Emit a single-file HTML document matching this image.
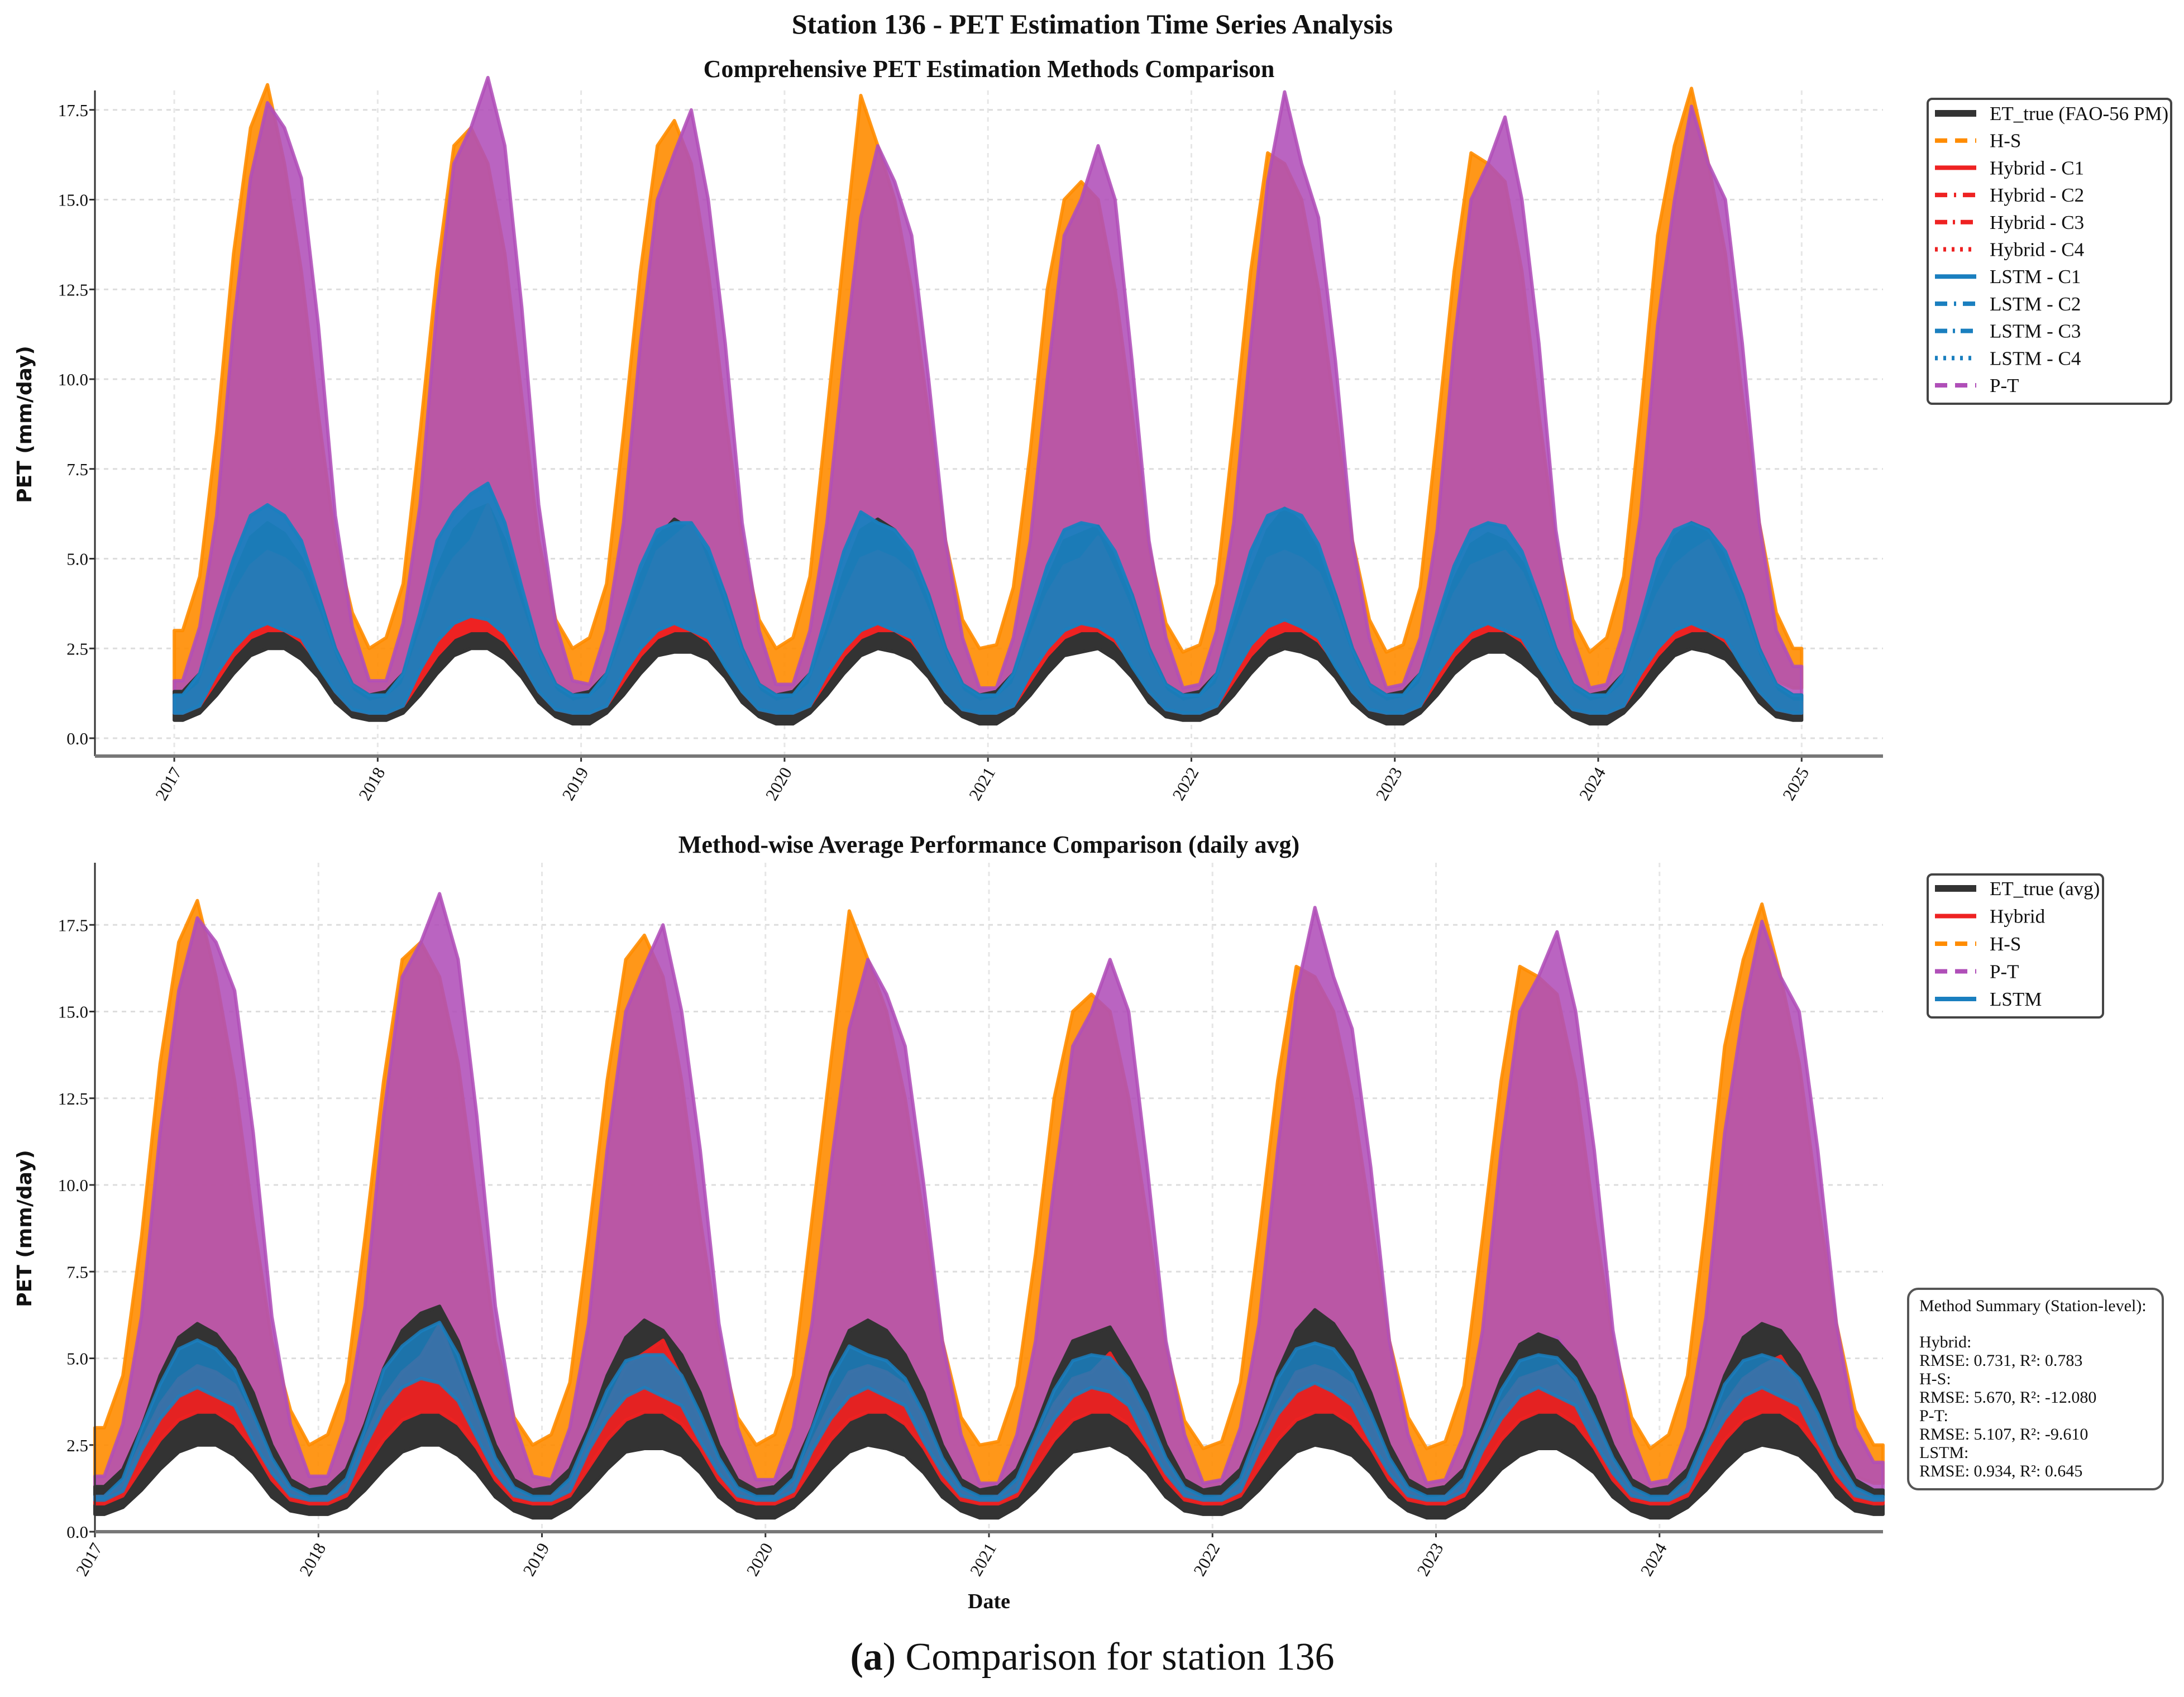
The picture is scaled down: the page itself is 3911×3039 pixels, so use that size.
<!DOCTYPE html>
<html><head><meta charset="utf-8"><style>
html,body{margin:0;padding:0;background:#fff}
svg{display:block}
text{font-family:"Liberation Serif",serif;fill:#111}
</style></head><body>
<svg id="fig" width="3911" height="3039" viewBox="0 0 3911 3039" xmlns="http://www.w3.org/2000/svg">
<text x="1956" y="60" text-anchor="middle" font-size="50" font-weight="bold">Station 136 - PET Estimation Time Series Analysis</text>
<text x="1771" y="138" text-anchor="middle" font-size="44" font-weight="bold">Comprehensive PET Estimation Methods Comparison</text>
<text x="1771" y="1527" text-anchor="middle" font-size="44" font-weight="bold">Method-wise Average Performance Comparison (daily avg)</text>
<g id="top"></g>
<g id="bot"></g>
<text transform="translate(56,760) rotate(-90)" text-anchor="middle" font-size="36" font-weight="bold" style="font-family:'DejaVu Sans',sans-serif">PET (mm/day)</text>
<text transform="translate(56,2200) rotate(-90)" text-anchor="middle" font-size="36" font-weight="bold" style="font-family:'DejaVu Sans',sans-serif">PET (mm/day)</text>
<text x="1771" y="2880" text-anchor="middle" font-size="38" font-weight="bold">Date</text>
<text x="1956" y="2990" text-anchor="middle" font-size="70"><tspan font-weight="bold">(a</tspan>) Comparison for station 136</text>

<g>
<rect x="3452" y="177" width="436" height="546" rx="8" fill="#fff" stroke="#444" stroke-width="4"/>
</g>
<g id="tleg"></g>
<g>
<rect x="3452" y="1566" width="314" height="256" rx="8" fill="#fff" stroke="#444" stroke-width="4"/>
</g>
<g id="bleg"></g>
<g>
<rect x="3417" y="2308" width="456" height="359" rx="18" fill="#fff" stroke="#555" stroke-width="4"/>
<g font-size="30">
<text x="3437" y="2348">Method Summary (Station-level):</text>
<text x="3437" y="2413">Hybrid:</text>
<text x="3437" y="2446">RMSE: 0.731, R²: 0.783</text>
<text x="3437" y="2479">H-S:</text>
<text x="3437" y="2512">RMSE: 5.670, R²: -12.080</text>
<text x="3437" y="2545">P-T:</text>
<text x="3437" y="2578">RMSE: 5.107, R²: -9.610</text>
<text x="3437" y="2611">LSTM:</text>
<text x="3437" y="2644">RMSE: 0.934, R²: 0.645</text>
</g></g>
</svg>
<script>
// monthly envelope data (Jan 2017 .. Dec 2024), mm/day
const years=[2017,2018,2019,2020,2021,2022,2023,2024];
const yTicks=[0,2.5,5,7.5,10,12.5,15,17.5];
const yTickLabels=["0.0","2.5","5.0","7.5","10.0","12.5","15.0","17.5"];
const ptHigh=[1.6,3.1,6.2,11.5,15.6,17.7,17.0,15.6,11.5,6.2,3.1,1.6, 1.6,3.2,6.5,12,16,17,18.4,16.5,12,6.5,3.2,1.6, 1.5,3,6,11,15,16.3,17.5,15,11,6,3,1.5, 1.5,3,6,10.5,14.5,16.5,15.5,14,10,5.5,2.8,1.4, 1.4,2.8,5.5,10,14,15,16.5,15,10.5,5.5,2.8,1.4, 1.5,3,6,11,15.5,18,16,14.5,10.5,5.5,2.8,1.4, 1.5,2.8,5.8,11,15,16,17.3,15,11,5.8,2.8,1.4, 1.5,3,6.2,11.5,15,17.6,16,15,11,6,3,2.0];
const ptLow=[0.9,1.3,2.3,3.8,5,5.8,5.5,4.8,3.5,2.2,1.3,0.9, 0.9,1.3,2.4,4,5.3,5.8,6,5,3.6,2.2,1.3,0.9, 0.8,1.2,2.3,3.8,5,5.6,5.6,4.6,3.4,2.1,1.2,0.8, 0.8,1.2,2.3,3.8,4.8,5.6,5.3,4.6,3.3,2,1.2,0.8, 0.8,1.2,2.2,3.6,4.8,5.4,5.6,4.8,3.4,2,1.2,0.8, 0.8,1.2,2.3,3.8,5,5.8,5.3,4.6,3.4,2,1.2,0.8, 0.8,1.2,2.3,3.8,5,5.4,5.6,4.8,3.5,2.1,1.2,0.8, 0.8,1.3,2.4,4,5,5.8,5.4,4.8,3.5,2.1,1.3,1.0];
const hsHigh=[3,4.5,8.5,13.5,17,18.2,16,13,9,5.5,3.5,2.5, 2.8,4.3,8.5,13,16.5,17,16,13.5,9.5,5.5,3.3,2.5, 2.8,4.3,8.5,13,16.5,17.2,16,13,9,5.5,3.3,2.5, 2.8,4.5,9,13.5,17.9,16.5,15,12.5,9,5.5,3.3,2.5, 2.6,4.2,8,12.5,15,15.5,15,12.5,9,5.3,3.2,2.4, 2.6,4.3,8.5,13,16.3,16,15,12.5,9,5.5,3.3,2.4, 2.6,4.2,8.5,13,16.3,16,15.5,13,9,5.5,3.3,2.4, 2.8,4.5,9,14,16.5,18.1,16,13.5,9.5,6,3.5,2.5];
const hsLow=[1.3,1.7,2.8,4,5,5.4,5.2,4.4,3.4,2.3,1.6,1.3, 1.3,1.7,2.8,4,5,5.3,5.3,4.4,3.4,2.3,1.6,1.3, 1.2,1.7,2.8,4,5,5.3,5.3,4.4,3.4,2.3,1.6,1.2, 1.2,1.7,2.8,4,5,5.3,5,4.4,3.4,2.3,1.6,1.2, 1.2,1.7,2.7,3.8,4.8,5,5,4.4,3.4,2.3,1.5,1.2, 1.2,1.7,2.8,4,5,5.3,5,4.4,3.4,2.3,1.5,1.2, 1.2,1.7,2.8,4,5,5.3,5,4.4,3.4,2.3,1.5,1.2, 1.3,1.8,2.9,4.1,5,5.4,5.2,4.4,3.4,2.3,1.6,1.4];
const etHigh=[1.3,1.8,3,4.5,5.6,6.0,5.7,5.0,4,2.5,1.5,1.2, 1.3,1.8,3.1,4.7,5.8,6.3,6.5,5.5,4,2.5,1.5,1.2, 1.3,1.8,3,4.5,5.6,6.1,5.8,5.1,4,2.5,1.5,1.2, 1.3,1.8,3,4.6,5.8,6.1,5.8,5.1,4,2.5,1.5,1.2, 1.3,1.8,3,4.4,5.5,5.7,5.9,5.0,4,2.5,1.5,1.2, 1.3,1.8,3.1,4.6,5.8,6.4,6.0,5.2,4,2.5,1.5,1.2, 1.3,1.8,3,4.4,5.4,5.7,5.5,4.9,3.9,2.5,1.5,1.2, 1.3,1.8,3,4.5,5.6,6.0,5.8,5.1,4,2.5,1.5,1.2];
const etLow=[0.5,0.7,1.2,1.8,2.3,2.5,2.5,2.2,1.7,1.0,0.6,0.5, 0.5,0.7,1.2,1.8,2.3,2.5,2.5,2.2,1.7,1.0,0.6,0.4, 0.4,0.7,1.2,1.8,2.3,2.4,2.4,2.2,1.7,1.0,0.6,0.4, 0.4,0.7,1.2,1.8,2.3,2.5,2.4,2.2,1.7,1.0,0.6,0.4, 0.4,0.7,1.2,1.8,2.3,2.4,2.5,2.2,1.7,1.0,0.6,0.5, 0.5,0.7,1.2,1.8,2.3,2.5,2.4,2.2,1.7,1.0,0.6,0.4, 0.4,0.7,1.2,1.8,2.2,2.4,2.4,2.1,1.7,1.0,0.6,0.4, 0.4,0.7,1.2,1.8,2.3,2.5,2.4,2.2,1.7,1.0,0.6,0.5];
const lstmHigh=[1.2,1.8,3.5,5,6.2,6.5,6.2,5.5,4,2.5,1.5,1.2, 1.2,1.8,3.5,5.5,6.3,6.8,7.1,6,4.2,2.5,1.5,1.2, 1.2,1.8,3.3,4.8,5.8,6.0,6.0,5.3,4,2.5,1.5,1.2, 1.2,1.8,3.5,5.2,6.3,6.0,5.8,5.2,4,2.5,1.5,1.2, 1.2,1.8,3.3,4.8,5.8,6.0,5.9,5.2,4,2.5,1.5,1.2, 1.2,1.8,3.5,5.2,6.2,6.4,6.2,5.4,4,2.5,1.5,1.2, 1.2,1.8,3.3,4.8,5.8,6.0,5.9,5.2,3.9,2.5,1.5,1.2, 1.2,1.8,3.3,5,5.8,6.0,5.8,5.2,4,2.5,1.5,1.2];
const lstmLow=[0.7,0.9,1.8,2.5,3,3.2,3,2.8,2,1.3,0.8,0.7, 0.7,0.9,1.9,2.7,3.2,3.4,3.3,2.9,2.1,1.3,0.8,0.7, 0.7,0.9,1.8,2.5,3,3.2,3,2.8,2,1.3,0.8,0.7, 0.7,0.9,1.8,2.5,3,3.2,3,2.8,2,1.3,0.8,0.7, 0.7,0.9,1.8,2.5,3,3.2,3.1,2.8,2,1.3,0.8,0.7, 0.7,0.9,1.8,2.6,3.1,3.3,3.1,2.8,2,1.3,0.8,0.7, 0.7,0.9,1.8,2.5,3,3.2,3,2.8,2,1.3,0.8,0.7, 0.7,0.9,1.8,2.5,3,3.2,3,2.8,2,1.3,0.8,0.7];
const hybHigh=[1.1,1.5,2.8,4,4.8,5.2,5.0,4.6,3.5,2.2,1.3,1.0, 1.1,1.5,2.9,4.2,5,5.5,6.5,5,3.6,2.2,1.3,1.0, 1.1,1.5,2.8,4,5.2,5.6,6.0,4.8,3.5,2.2,1.3,1.0, 1.1,1.5,2.8,4,5,5.2,5.0,4.6,3.5,2.2,1.3,1.0, 1.1,1.5,2.8,4,4.8,5.0,5.6,4.6,3.5,2.2,1.3,1.0, 1.1,1.5,2.8,4,5,5.2,5.0,4.6,3.5,2.2,1.3,1.0, 1.1,1.5,2.8,4,4.8,5.0,5.2,4.6,3.5,2.2,1.3,1.0, 1.1,1.5,2.8,4,4.8,5.2,5.5,4.6,3.5,2.2,1.3,1.0];
const hybLow=[0.7,0.9,1.6,2.3,2.8,3.0,3.0,2.7,2.1,1.3,0.8,0.7, 0.7,0.9,1.6,2.3,2.8,3.0,3.0,2.7,2.1,1.3,0.8,0.7, 0.7,0.9,1.6,2.3,2.8,3.0,3.0,2.7,2.1,1.3,0.8,0.7, 0.7,0.9,1.6,2.3,2.8,3.0,3.0,2.7,2.1,1.3,0.8,0.7, 0.7,0.9,1.6,2.3,2.8,3.0,3.0,2.7,2.1,1.3,0.8,0.7, 0.7,0.9,1.6,2.3,2.8,3.0,3.0,2.7,2.1,1.3,0.8,0.7, 0.7,0.9,1.6,2.3,2.8,3.0,3.0,2.7,2.1,1.3,0.8,0.7, 0.7,0.9,1.6,2.3,2.8,3.0,3.0,2.7,2.1,1.3,0.8,0.7];

const NS='http://www.w3.org/2000/svg';
function mk(p,tag,a){const e=document.createElementNS(NS,tag);for(const k in a)e.setAttribute(k,a[k]);p.appendChild(e);return e;}

function panel(g,cfg){
  const xs=t=>cfg.x0+(t-cfg.t0)/(cfg.t1-cfg.t0)*(cfg.x1-cfg.x0);
  const ys=v=>cfg.yZero-v*cfg.yPer;
  yTicks.forEach((v,i)=>{
    const l=mk(g,'line',{x1:cfg.x0,x2:cfg.x1,y1:ys(v),y2:ys(v),stroke:'#ddd','stroke-width':3,'stroke-dasharray':'8 8'});
    
    
    const t=mk(g,'text',{x:cfg.x0-12,y:ys(v)+11,'text-anchor':'end','font-size':31});
    t.textContent=yTickLabels[i];
    
    
    mk(g,'line',{x1:cfg.x0-10,x2:cfg.x0,y1:ys(v),y2:ys(v),stroke:'#333','stroke-width':3});
  });
  cfg.xTickYears.forEach(y=>{
    const x=xs(y);
    const l=mk(g,'line',{x1:x,x2:x,y1:cfg.yTop,y2:cfg.yBot,stroke:'#e6e6e6','stroke-width':3,'stroke-dasharray':'8 8'});
    
    
    mk(g,'line',{x1:x,x2:x,y1:cfg.yBot,y2:cfg.yBot+10,stroke:'#333','stroke-width':3});
    const t=mk(g,'text',{transform:`translate(${x+14},${cfg.yBot+28}) rotate(-60)`,'text-anchor':'end','font-size':31});
    t.textContent=String(y);
    
    
  });
  function band(hi,lo,color,op,name){
    const n=hi.length;let pts=[];
    pts.push([xs(2017),ys(hi[0])]);
    for(let i=0;i<n;i++)pts.push([xs(2017+(i+0.5)/12),ys(hi[i])]);
    pts.push([xs(2025),ys(hi[n-1])]);
    pts.push([xs(2025),ys(lo[n-1])]);
    for(let i=n-1;i>=0;i--)pts.push([xs(2017+(i+0.5)/12),ys(lo[i])]);
    pts.push([xs(2017),ys(lo[0])]);
    const p=mk(g,'polygon',{points:pts.map(q=>q[0].toFixed(1)+','+q[1].toFixed(1)).join(' '),fill:color,'fill-opacity':op,stroke:color,'stroke-width':6,'stroke-opacity':op,'stroke-linejoin':'round'});
    
    
  }
  band(hsHigh,hsLow,'#ff8c00',0.9,'hs-series');
  band(ptHigh,ptLow,'#b04fb8',0.88,'pt-series');
  band(etHigh,etLow,'#333333',1,'et-true-series');
  if(cfg.top){
    band(hybHigh,hybLow,'#ee2222',1,'hybrid-series');
    band(lstmHigh,lstmLow,'#1a7fbf',0.95,'lstm-series');
  } else {
    band(hybHigh.map(v=>v*0.92),hybLow.map(v=>v*1.15),'#ee2222',0.95,'hybrid-series');
    band(lstmHigh.map(v=>v*0.85),lstmLow.map(v=>v*1.3),'#1a7fbf',0.85,'lstm-series');
  }
  mk(g,'line',{x1:cfg.x0,x2:cfg.x0,y1:cfg.yTop,y2:cfg.yBot,stroke:'#333','stroke-width':3});
  mk(g,'line',{x1:cfg.x0,x2:cfg.x1,y1:cfg.yBot,y2:cfg.yBot,stroke:'#777','stroke-width':6});
}
panel(document.getElementById('top'),{x0:170,x1:3372,t0:2016.61,t1:2025.4,yZero:1322,yPer:64.3,yTop:162,yBot:1354,xTickYears:[2017,2018,2019,2020,2021,2022,2023,2024,2025],top:true});
panel(document.getElementById('bot'),{x0:170,x1:3372,t0:2017,t1:2025,yZero:2743,yPer:62.1,yTop:1545,yBot:2743,xTickYears:[2017,2018,2019,2020,2021,2022,2023,2024],top:false});

const topLegendLabels=["ET_true (FAO-56 PM)","H-S","Hybrid - C1","Hybrid - C2","Hybrid - C3","Hybrid - C4","LSTM - C1","LSTM - C2","LSTM - C3","LSTM - C4","P-T"];
const topLegendColors=["#333","#ff8c00","#ee2222","#ee2222","#ee2222","#ee2222","#1a7fbf","#1a7fbf","#1a7fbf","#1a7fbf","#b04fb8"];
const topLegendDash=["","22 14","","22 12 4 12","22 10 4 10","5 10","","22 12 4 12","22 10 4 10","5 10","22 14"];
const botLegendLabels=["ET_true (avg)","Hybrid","H-S","P-T","LSTM"];
const botLegendColors=["#333","#ee2222","#ff8c00","#b04fb8","#1a7fbf"];
const botLegendDash=["","","22 14","22 14",""];
function legend(gid,labels,colors,dash,y0,step){
  const g=document.getElementById(gid);
  labels.forEach((lab,i)=>{
    const y=y0+i*step;
    const ln=mk(g,'line',{x1:3465,x2:3539,y1:y,y2:y,stroke:colors[i],'stroke-width':i===0?12:8});
    if(dash[i])ln.setAttribute('stroke-dasharray',dash[i]);
    
    
    const t=mk(g,'text',{x:3563,y:y+12,'font-size':35});
    t.textContent=lab;
    
    
  });
}
legend('tleg',topLegendLabels,topLegendColors,topLegendDash,203,48.7);
legend('bleg',botLegendLabels,botLegendColors,botLegendDash,1591,49.5);
</script>
</body></html>
